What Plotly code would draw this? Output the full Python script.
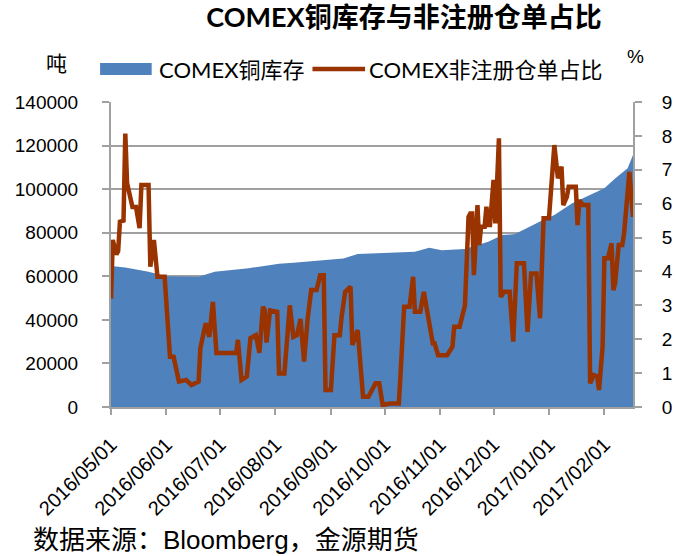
import plotly.graph_objects as go

# ---------------- data ----------------
inv_dates = ['2016-05-01', '2016-05-09', '2016-05-22', '2016-06-01', '2016-06-19', '2016-06-28',
             '2016-07-17', '2016-08-03', '2016-08-11', '2016-09-08', '2016-09-16', '2016-10-18',
             '2016-10-26', '2016-11-02', '2016-11-15', '2016-11-28', '2016-12-06', '2016-12-13',
             '2016-12-27', '2017-01-04', '2017-01-14', '2017-02-01', '2017-02-07', '2017-02-14',
             '2017-02-17']
inv_values = [64700, 64000, 62100, 60000, 59800, 62100,
              63700, 65800, 66200, 68200, 70200, 71300,
              73100, 71900, 72500, 75800, 78900, 79400,
              85100, 88100, 93500, 100400, 104900, 109600,
              115700]

ratio_dates = ['2016-05-01', '2016-05-02', '2016-05-04', '2016-05-05', '2016-05-06', '2016-05-08',
               '2016-05-09', '2016-05-10', '2016-05-13', '2016-05-15', '2016-05-17', '2016-05-18',
               '2016-05-22', '2016-05-23', '2016-05-25', '2016-05-26', '2016-05-27', '2016-05-31',
               '2016-06-03', '2016-06-05', '2016-06-08', '2016-06-12', '2016-06-15', '2016-06-19',
               '2016-06-20', '2016-06-23', '2016-06-25', '2016-06-27', '2016-06-29', '2016-07-10',
               '2016-07-11', '2016-07-13', '2016-07-16', '2016-07-18', '2016-07-21', '2016-07-23',
               '2016-07-25', '2016-07-26', '2016-07-27', '2016-07-29', '2016-08-02', '2016-08-03',
               '2016-08-06', '2016-08-09', '2016-08-11', '2016-08-13', '2016-08-15', '2016-08-17',
               '2016-08-19', '2016-08-21', '2016-08-24', '2016-08-26', '2016-08-28', '2016-08-29',
               '2016-09-01', '2016-09-03', '2016-09-06', '2016-09-07', '2016-09-09', '2016-09-12',
               '2016-09-13', '2016-09-16', '2016-09-19', '2016-09-22', '2016-09-24', '2016-09-26',
               '2016-09-28', '2016-09-30', '2016-10-04', '2016-10-09', '2016-10-10', '2016-10-12',
               '2016-10-15', '2016-10-17', '2016-10-18', '2016-10-21', '2016-10-23', '2016-10-28',
               '2016-10-29', '2016-10-31', '2016-11-05', '2016-11-08', '2016-11-09', '2016-11-12',
               '2016-11-15', '2016-11-17', '2016-11-18', '2016-11-19', '2016-11-20', '2016-11-22',
               '2016-11-23', '2016-11-24', '2016-11-26', '2016-11-27', '2016-11-28', '2016-11-29',
               '2016-12-01', '2016-12-02', '2016-12-04', '2016-12-05', '2016-12-07', '2016-12-10',
               '2016-12-12', '2016-12-14', '2016-12-18', '2016-12-20', '2016-12-22', '2016-12-25',
               '2016-12-27', '2016-12-29', '2017-01-01', '2017-01-04', '2017-01-06', '2017-01-08',
               '2017-01-09', '2017-01-11', '2017-01-12', '2017-01-16', '2017-01-17', '2017-01-18',
               '2017-01-20', '2017-01-23', '2017-01-24', '2017-01-26', '2017-01-28', '2017-01-29',
               '2017-01-31', '2017-02-01', '2017-02-03', '2017-02-05', '2017-02-06', '2017-02-07',
               '2017-02-09', '2017-02-11', '2017-02-12', '2017-02-15', '2017-02-17']
ratio_values = [3.2, 4.93, 4.5, 4.6, 5.47, 5.5,
                8.07, 6.6, 5.9, 5.9, 5.28, 6.55,
                6.55, 4.14, 4.93, 4.14, 3.84, 3.84,
                1.48, 1.48, 0.75, 0.8, 0.65, 0.75,
                1.74, 2.47, 2.07, 3.1, 1.59, 1.59,
                1.98, 0.8, 0.9, 2.03, 2.12, 1.6,
                2.96, 2.85, 1.9, 2.85, 2.81, 0.99,
                0.99, 3.0, 2.07, 2.12, 2.6, 1.34,
                2.6, 3.45, 3.45, 3.89, 3.89, 0.5,
                0.5, 2.12, 2.12, 2.66, 3.4, 3.55,
                1.83, 2.27, 0.3, 0.3, 0.5, 0.7,
                0.7, 0.06, 0.1, 0.1, 1.0, 2.96,
                2.96, 3.84, 2.81, 2.81, 3.4, 1.88,
                1.88, 1.53, 1.53, 1.78, 2.37, 2.37,
                3.0, 5.61, 5.71, 5.71, 3.89, 5.96,
                4.78, 5.32, 5.32, 5.91, 5.37, 5.37,
                6.7, 5.42, 7.93, 3.25, 3.4, 3.4,
                1.93, 4.24, 4.24, 2.22, 3.94, 3.94,
                2.62, 5.57, 5.57, 7.73, 6.75, 7.09,
                5.96, 6.2, 6.5, 6.5, 5.37, 6.1,
                5.96, 5.96, 0.7, 0.94, 0.9, 0.5,
                1.78, 4.39, 4.39, 4.83, 3.45, 3.65,
                4.78, 4.78, 5.12, 6.94, 5.61]

month_ticks = ['2016-05-01', '2016-06-01', '2016-07-01', '2016-08-01', '2016-09-01',
               '2016-10-01', '2016-11-01', '2016-12-01', '2017-01-01', '2017-02-01']
month_labels = ['2016/05/01', '2016/06/01', '2016/07/01', '2016/08/01', '2016/09/01',
                '2016/10/01', '2016/11/01', '2016/12/01', '2017/01/01', '2017/02/01']
left_ticks = [0, 20000, 40000, 60000, 80000, 100000, 120000, 140000]
left_labels = ['0', '20000', '40000', '60000', '80000', '100000', '120000', '140000']
right_ticks = [0, 1, 2, 3, 4, 5, 6, 7, 8, 9]

name_inv = 'COMEX铜库存'
name_ratio = 'COMEX非注册仓单占比'
title_text = 'COMEX铜库存与非注册仓单占比'
source_text = '数据来源：Bloomberg，金源期货'

# ---------------- style ----------------
W, H = 685, 556
L, R, T, B = 111, 637, 102, 407
BLUE = '#4F81BD'
BROWN = '#993300'
GRID = '#A0A0A0'
CJK = "'Noto Sans CJK SC'"
SANS = "'Liberation Sans', " + CJK
LATIN = "Lato, " + CJK


def px(xp):
    return (xp - L) / (R - L)


def py(yp):
    return (B - yp) / (B - T)


fig = go.Figure()
fig.add_trace(go.Scatter(
    x=inv_dates, y=inv_values, name=name_inv, mode='lines',
    line=dict(width=0, color=BLUE), fill='tozeroy', fillcolor=BLUE,
    yaxis='y'))
fig.add_trace(go.Scatter(
    x=ratio_dates, y=ratio_values, name=name_ratio, mode='lines',
    line=dict(width=4.5, color=BROWN), yaxis='y2'))

fig.update_layout(
    width=W, height=H,
    margin=dict(l=L, r=W - R, t=T, b=H - B),
    plot_bgcolor='white', paper_bgcolor='white',
    showlegend=False,
    title=dict(text='<b>' + title_text + '</b>', font=dict(family=LATIN, size=27, color='black'),
               x=404 / W, xanchor='center', xref='container',
               y=1 - 18 / H, yanchor='middle', yref='container'),
    xaxis=dict(type='date', range=['2016-05-01', '2017-02-17'],
               tickvals=month_ticks, ticktext=month_labels, tickangle=-45,
               tickfont=dict(family=SANS, size=20, color='black'),
               showline=True, linecolor=GRID, linewidth=2,
               ticks='outside', ticklen=6, tickcolor=GRID, tickwidth=2,
               showgrid=False, zeroline=False, ticklabelstandoff=10),
    yaxis=dict(range=[0, 140000], tickvals=left_ticks, ticktext=left_labels,
               tickfont=dict(family=SANS, size=19, color='black'),
               showline=True, linecolor=GRID, linewidth=2,
               ticks='outside', ticklen=7, tickcolor=GRID, tickwidth=2,
               showgrid=True, gridcolor=GRID, gridwidth=2, zeroline=False,
               ticklabelstandoff=20),
    yaxis2=dict(range=[0, 9], tickvals=right_ticks, overlaying='y', side='right',
                tickfont=dict(family=SANS, size=19, color='black'),
                showline=True, linecolor=GRID, linewidth=2,
                ticks='outside', ticklen=7, tickcolor=GRID, tickwidth=2,
                showgrid=False, zeroline=False, ticklabelstandoff=16),
)

# custom legend (swatches + labels)
fig.add_shape(type='rect', xref='paper', yref='paper',
              x0=px(100), x1=px(152), y0=py(75), y1=py(63),
              fillcolor=BLUE, line=dict(width=0))
fig.add_shape(type='line', xref='paper', yref='paper',
              x0=px(314), x1=px(367), y0=py(69), y1=py(69),
              line=dict(color=BROWN, width=4.5))
fig.add_annotation(text=name_inv, xref='paper', yref='paper', x=px(157), y=py(69),
                   xanchor='left', yanchor='middle', showarrow=False,
                   font=dict(family=LATIN, size=22, color='black'))
fig.add_annotation(text=name_ratio, xref='paper', yref='paper', x=px(369), y=py(69),
                   xanchor='left', yanchor='middle', showarrow=False,
                   font=dict(family=LATIN, size=22, color='black'))
# axis unit labels
fig.add_annotation(text='吨', xref='paper', yref='paper', x=px(56), y=py(62),
                   xanchor='center', yanchor='middle', showarrow=False,
                   font=dict(family=CJK, size=21, color='black'))
fig.add_annotation(text='%', xref='paper', yref='paper', x=px(640), y=py(56),
                   xanchor='center', yanchor='middle', showarrow=False,
                   font=dict(family=SANS, size=19, color='black'))
# source
fig.add_annotation(text=source_text, xref='paper', yref='paper', x=px(30), y=py(540),
                   xanchor='left', yanchor='middle', showarrow=False,
                   font=dict(family=SANS, size=26, color='black'))

fig.write_html('out.html', config={'displayModeBar': False},
               post_script="document.body.style.margin='0';")
